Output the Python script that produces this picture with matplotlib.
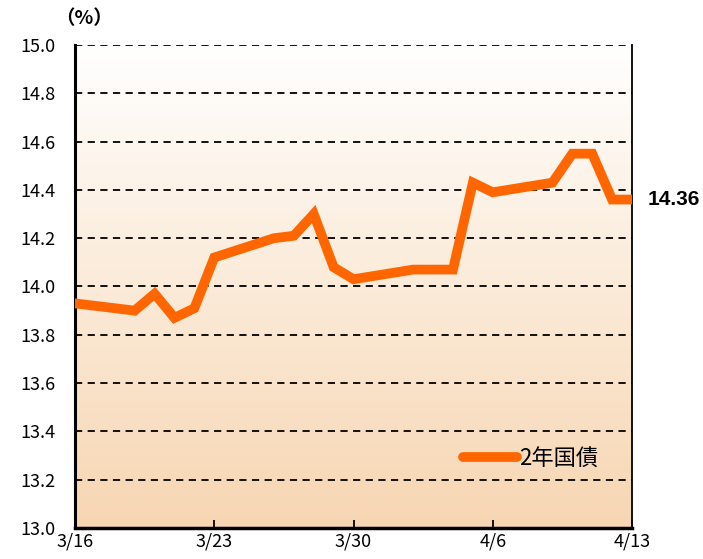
import matplotlib
matplotlib.use('Agg')
import matplotlib.pyplot as plt
import matplotlib.dates as mdates
import numpy as np
import pandas as pd

plt.rcParams['font.family'] = ['Noto Sans CJK JP', 'DejaVu Sans']

# 2-year government bond yield (%)
dates = ['2020-03-16', '2020-03-19', '2020-03-20', '2020-03-21', '2020-03-22',
         '2020-03-23', '2020-03-26', '2020-03-27', '2020-03-28', '2020-03-29',
         '2020-03-30', '2020-04-02', '2020-04-04', '2020-04-05', '2020-04-06',
         '2020-04-09', '2020-04-10', '2020-04-11', '2020-04-12', '2020-04-13']
yields = [13.93, 13.90, 13.97, 13.87, 13.91,
          14.12, 14.20, 14.21, 14.30, 14.08,
          14.03, 14.07, 14.07, 14.43, 14.39,
          14.43, 14.55, 14.55, 14.36, 14.36]
tick_dates = ['2020-03-16', '2020-03-23', '2020-03-30', '2020-04-06', '2020-04-13']
tick_labels = ['3/16', '3/23', '3/30', '4/6', '4/13']
series_name = '2年国債'

x = pd.to_datetime(dates)
xt = pd.to_datetime(tick_dates)

fig = plt.figure(figsize=(7.03, 5.59), dpi=100)
ax = fig.add_axes([0.1067, 0.0555, 0.7923, 0.864])

x0, x1 = mdates.date2num(xt[0]), mdates.date2num(xt[-1])
ax.set_xlim(x0, x1)
ax.set_ylim(13.0, 15.0)

# background gradient: white at top to peach at bottom
grad = np.linspace(0, 1, 256).reshape(-1, 1)
top = np.array([1.0, 1.0, 1.0])
bot = np.array([247, 214, 178]) / 255
img = top + (bot - top) * grad[:, :, None] * np.ones((1, 1, 3))
ax.imshow(img, extent=[x0, x1, 13.0, 15.0], origin='upper', aspect='auto', zorder=0)

for v in np.arange(13.2, 15.01, 0.2):
    ax.axhline(v, color='black', lw=1.3, ls=(0, (4, 3)), zorder=1)

ax.plot(x, yields, color='#FF6600', lw=7, solid_joinstyle='miter', zorder=3, label=series_name)

ax.text(1.028, (yields[-1] - 13.0) / 2.0, f'{yields[-1]:.2f}', transform=ax.transAxes,
        fontsize=15, fontweight='bold', va='center', ha='left', family='Liberation Sans')

ax.set_xticks(mdates.date2num(xt))
ax.set_xticklabels(tick_labels, fontsize=13)
ax.set_yticks(np.arange(13.0, 15.01, 0.2))
ax.set_yticklabels([f'{v:.1f}' for v in np.arange(13.0, 15.01, 0.2)], fontsize=13)
ax.tick_params(axis='x', direction='in', length=6, width=1.3, pad=3)
ax.tick_params(axis='y', length=0, pad=14)

ax.spines['top'].set_visible(False)
ax.spines['left'].set_linewidth(2.2)
ax.spines['bottom'].set_linewidth(2.5)
ax.spines['right'].set_linewidth(1.3)

ax.text(-0.035, 1.035, '（%）', transform=ax.transAxes, fontsize=14, ha='left', va='bottom',
        fontweight='bold')

leg = ax.legend(loc='lower right', bbox_to_anchor=(0.975, 0.08), frameon=False,
                handlelength=2.4, handletextpad=0.1,
                prop={'family': ['Noto Sans CJK JP'], 'size': 16})
for h in leg.get_lines():
    h.set_solid_capstyle('round')

fig.savefig('out.png', dpi=100)
